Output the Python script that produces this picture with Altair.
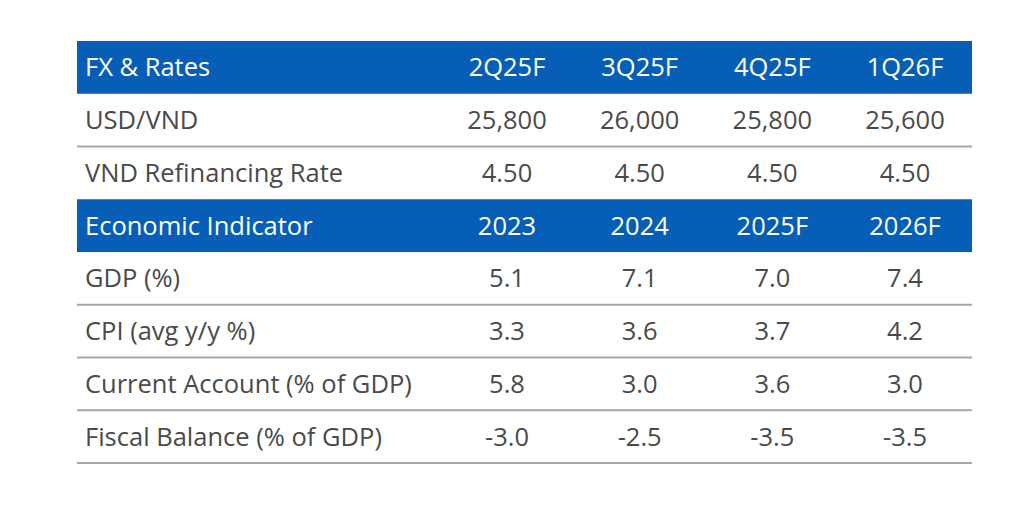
import altair as alt
import pandas as pd

# ---- data ----
row_labels = ["FX & Rates", "USD/VND", "VND Refinancing Rate",
              "Economic Indicator", "GDP (%)", "CPI (avg y/y %)",
              "Current Account (% of GDP)", "Fiscal Balance (% of GDP)"]
header_rows = [0, 3]
fx_cols = ["2Q25F", "3Q25F", "4Q25F", "1Q26F"]
eco_cols = ["2023", "2024", "2025F", "2026F"]
usd_vnd = ["25,800", "26,000", "25,800", "25,600"]
refi = ["4.50", "4.50", "4.50", "4.50"]
gdp = ["5.1", "7.1", "7.0", "7.4"]
cpi = ["3.3", "3.6", "3.7", "4.2"]
current_account = ["5.8", "3.0", "3.6", "3.0"]
fiscal = ["-3.0", "-2.5", "-3.5", "-3.5"]
lined_rows = [1, 4, 5, 6, 7]

row_values = [fx_cols, usd_vnd, refi, eco_cols, gdp, cpi, current_account, fiscal]

cells = []
for r, (lab, vals) in enumerate(zip(row_labels, row_values)):
    hdr = r in header_rows
    cells.append({"row": r, "col": 0, "text": lab, "hdr": hdr})
    for c, v in enumerate(vals, start=1):
        cells.append({"row": r, "col": c, "text": v, "hdr": hdr})
cells = pd.DataFrame(cells)
hdr_df = pd.DataFrame({"row": header_rows})
line_df = pd.DataFrame({"row": lined_rows})

BLUE = "#075eb6"
TEXT = "#4a4a4a"
LINE = "#aaa59d"
FONT = "Open Sans"
FS = 25.5

yscale = alt.Scale(domain=list(range(len(row_labels))), paddingInner=0, paddingOuter=0)
xscale = alt.Scale(domain=[0, 1, 4], range=[8, 430, 828])

bands = alt.Chart(hdr_df).mark_rect(color=BLUE).encode(
    y=alt.Y("row:O", scale=yscale, axis=None),
    x=alt.value(0), x2=alt.value("width"),
)

lines = alt.Chart(line_df).mark_rule(color=LINE, strokeWidth=2).encode(
    y=alt.Y("row:O", scale=yscale, axis=None, bandPosition=1),
    x=alt.value(0), x2=alt.value("width"),
)

base_text = alt.Chart(cells).encode(
    y=alt.Y("row:O", scale=yscale, axis=None),
    x=alt.X("col:Q", scale=xscale, axis=None),
    text="text:N",
    color=alt.condition("datum.hdr", alt.value("white"), alt.value(TEXT)),
)
labels = base_text.transform_filter("datum.col == 0").mark_text(
    align="left", baseline="middle", font=FONT, fontSize=FS, dy=1)
values = base_text.transform_filter("datum.col > 0").mark_text(
    align="center", baseline="middle", font=FONT, fontSize=FS, dy=1)

chart = alt.layer(bands, lines, labels, values).properties(
    width=895, height=422,
    background="white",
    autosize=alt.AutoSizeParams(type="none"),
    padding={"left": 69, "top": 33, "right": 32, "bottom": 36},
).configure_view(stroke="transparent", strokeWidth=0)

chart.save("out.html", embed_options={"renderer": "svg", "actions": False})
